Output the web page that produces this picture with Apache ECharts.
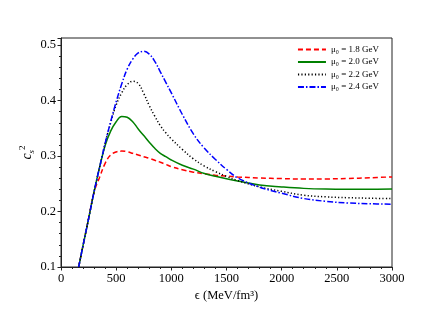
<!DOCTYPE html>
<html><head><meta charset="utf-8">
<script src="https://cdn.jsdelivr.net/npm/echarts@6/dist/echarts.min.js"></script>
<style>html,body{margin:0;padding:0;background:#fff}#c{width:436px;height:314px}</style>
</head><body><div id="c"></div>
<script>
const eps   = [160,200,250,300,350,400,450,500,550,600,650,700,750,800,850,900,950,1000,1100,1200,1300,1400,1500,1600,1800,2000,2200,2400,2600,2800,3000];
const mu18  = [0.100,0.139,0.187,0.235,0.262,0.287,0.302,0.3075,0.309,0.308,0.305,0.302,0.299,0.296,0.2925,0.289,0.285,0.281,0.2755,0.271,0.268,0.2655,0.264,0.2625,0.2605,0.2595,0.2585,0.2588,0.2596,0.261,0.2625];
const mu20  = [0.100,0.139,0.187,0.236,0.280,0.319,0.345,0.362,0.3715,0.370,0.362,0.349,0.337,0.325,0.314,0.305,0.299,0.293,0.2835,0.2765,0.2685,0.2635,0.259,0.255,0.248,0.2445,0.2418,0.2405,0.2402,0.2402,0.2405];
const mu22  = [0.100,0.139,0.187,0.236,0.280,0.323,0.360,0.392,0.414,0.429,0.435,0.431,0.413,0.391,0.372,0.355,0.342,0.331,0.312,0.295,0.282,0.272,0.2635,0.256,0.2445,0.2365,0.2294,0.2265,0.225,0.224,0.2233];
const mu24  = [0.100,0.139,0.187,0.236,0.280,0.323,0.362,0.398,0.430,0.457,0.475,0.486,0.489,0.484,0.471,0.452,0.433,0.414,0.375,0.340,0.314,0.294,0.276,0.261,0.244,0.233,0.2235,0.2185,0.2155,0.214,0.2132];
const names = ['μ₀ = 1.8 GeV','μ₀ = 2.0 GeV','μ₀ = 2.2 GeV','μ₀ = 2.4 GeV'];
const colors = ['#ff0000','#008000','#000000','#0000ff'];
const dashes = [[5,3],'solid',[1.2,2.2],[6,2,1.5,2]];
const xTicks = [0,500,1000,1500,2000,2500,3000];
const yTicks = [0.1,0.2,0.3,0.4,0.5];

const allSeries = [mu18,mu20,mu22,mu24];
const font = 'Liberation Serif, DejaVu Serif, serif';
const chart = echarts.init(document.getElementById('c'), null, {renderer:'canvas'});
const fmtY = v => yTicks.some(t => Math.abs(t - v) < 1e-6) ? v.toFixed(1) : '';
chart.setOption({
  backgroundColor:'#fff',
  animation:false,
  textStyle:{fontFamily:font},
  grid:{left:61,right:44,top:38,bottom:47,show:true,borderColor:'#222',borderWidth:1,backgroundColor:'transparent'},
  legend:{
    orient:'vertical', right:52, top:40, itemWidth:28, itemHeight:8, itemGap:3.5,
    textStyle:{fontFamily:font,fontSize:9,color:'#000'},
    itemStyle:{opacity:0},
    data:names
  },
  xAxis:[{
    type:'value', min:0, max:3000, interval:500,
    name:'ϵ (MeV/fm³)', nameLocation:'middle', nameGap:22, nameMoveOverlap:false,
    nameTextStyle:{fontFamily:font,fontSize:12.5,color:'#000'},
    axisLine:{show:true,onZero:false,lineStyle:{color:'#222',width:1}},
    axisTick:{show:true,length:3.5,lineStyle:{color:'#222'}},
    minorTick:{show:true,splitNumber:5,length:2,lineStyle:{color:'#222'}},
    axisLabel:{fontFamily:font,fontSize:12.5,color:'#000',margin:5,
      formatter: v => xTicks.includes(v) ? String(v) : ''},
    splitLine:{show:false}
  }],
  yAxis:[{
    type:'value', min:0.1, max:0.513, interval:0.1,
    name:'{c|c}{s|s}{p|2}', nameLocation:'middle', nameGap:25, nameRotate:90, nameMoveOverlap:false,
    nameTextStyle:{fontFamily:font,fontSize:12.5,color:'#000',
      rich:{
        c:{fontFamily:font,fontStyle:'italic',fontSize:14,lineHeight:18,verticalAlign:'middle'},
        s:{fontFamily:font,fontStyle:'italic',fontSize:9,lineHeight:18,verticalAlign:'bottom'},
        p:{fontFamily:font,fontSize:9,lineHeight:18,verticalAlign:'top'}
      }},
    axisLine:{show:true,onZero:false,lineStyle:{color:'#222',width:1}},
    axisTick:{show:true,length:3.5,lineStyle:{color:'#222'}},
    axisLabel:{fontFamily:font,fontSize:12.5,color:'#000',margin:5,formatter:fmtY},
    splitLine:{show:false}
  },{
    type:'value', min:0.1, max:0.513, interval:0.02, position:'left',
    axisLine:{show:false},
    axisTick:{show:true,length:2,lineStyle:{color:'#222'}},
    axisLabel:{show:false},
    splitLine:{show:false}
  }],
  series: allSeries.map((arr,i) => ({
    name:names[i], type:'line', yAxisIndex:0, showSymbol:false, symbol:'none',
    smooth:0.4,
    lineStyle:{color:colors[i],width:1.5,type:dashes[i]},
    itemStyle:{color:colors[i]},
    data: eps.map((e,j) => [e, arr[j]])
  }))
});
</script></body></html>
